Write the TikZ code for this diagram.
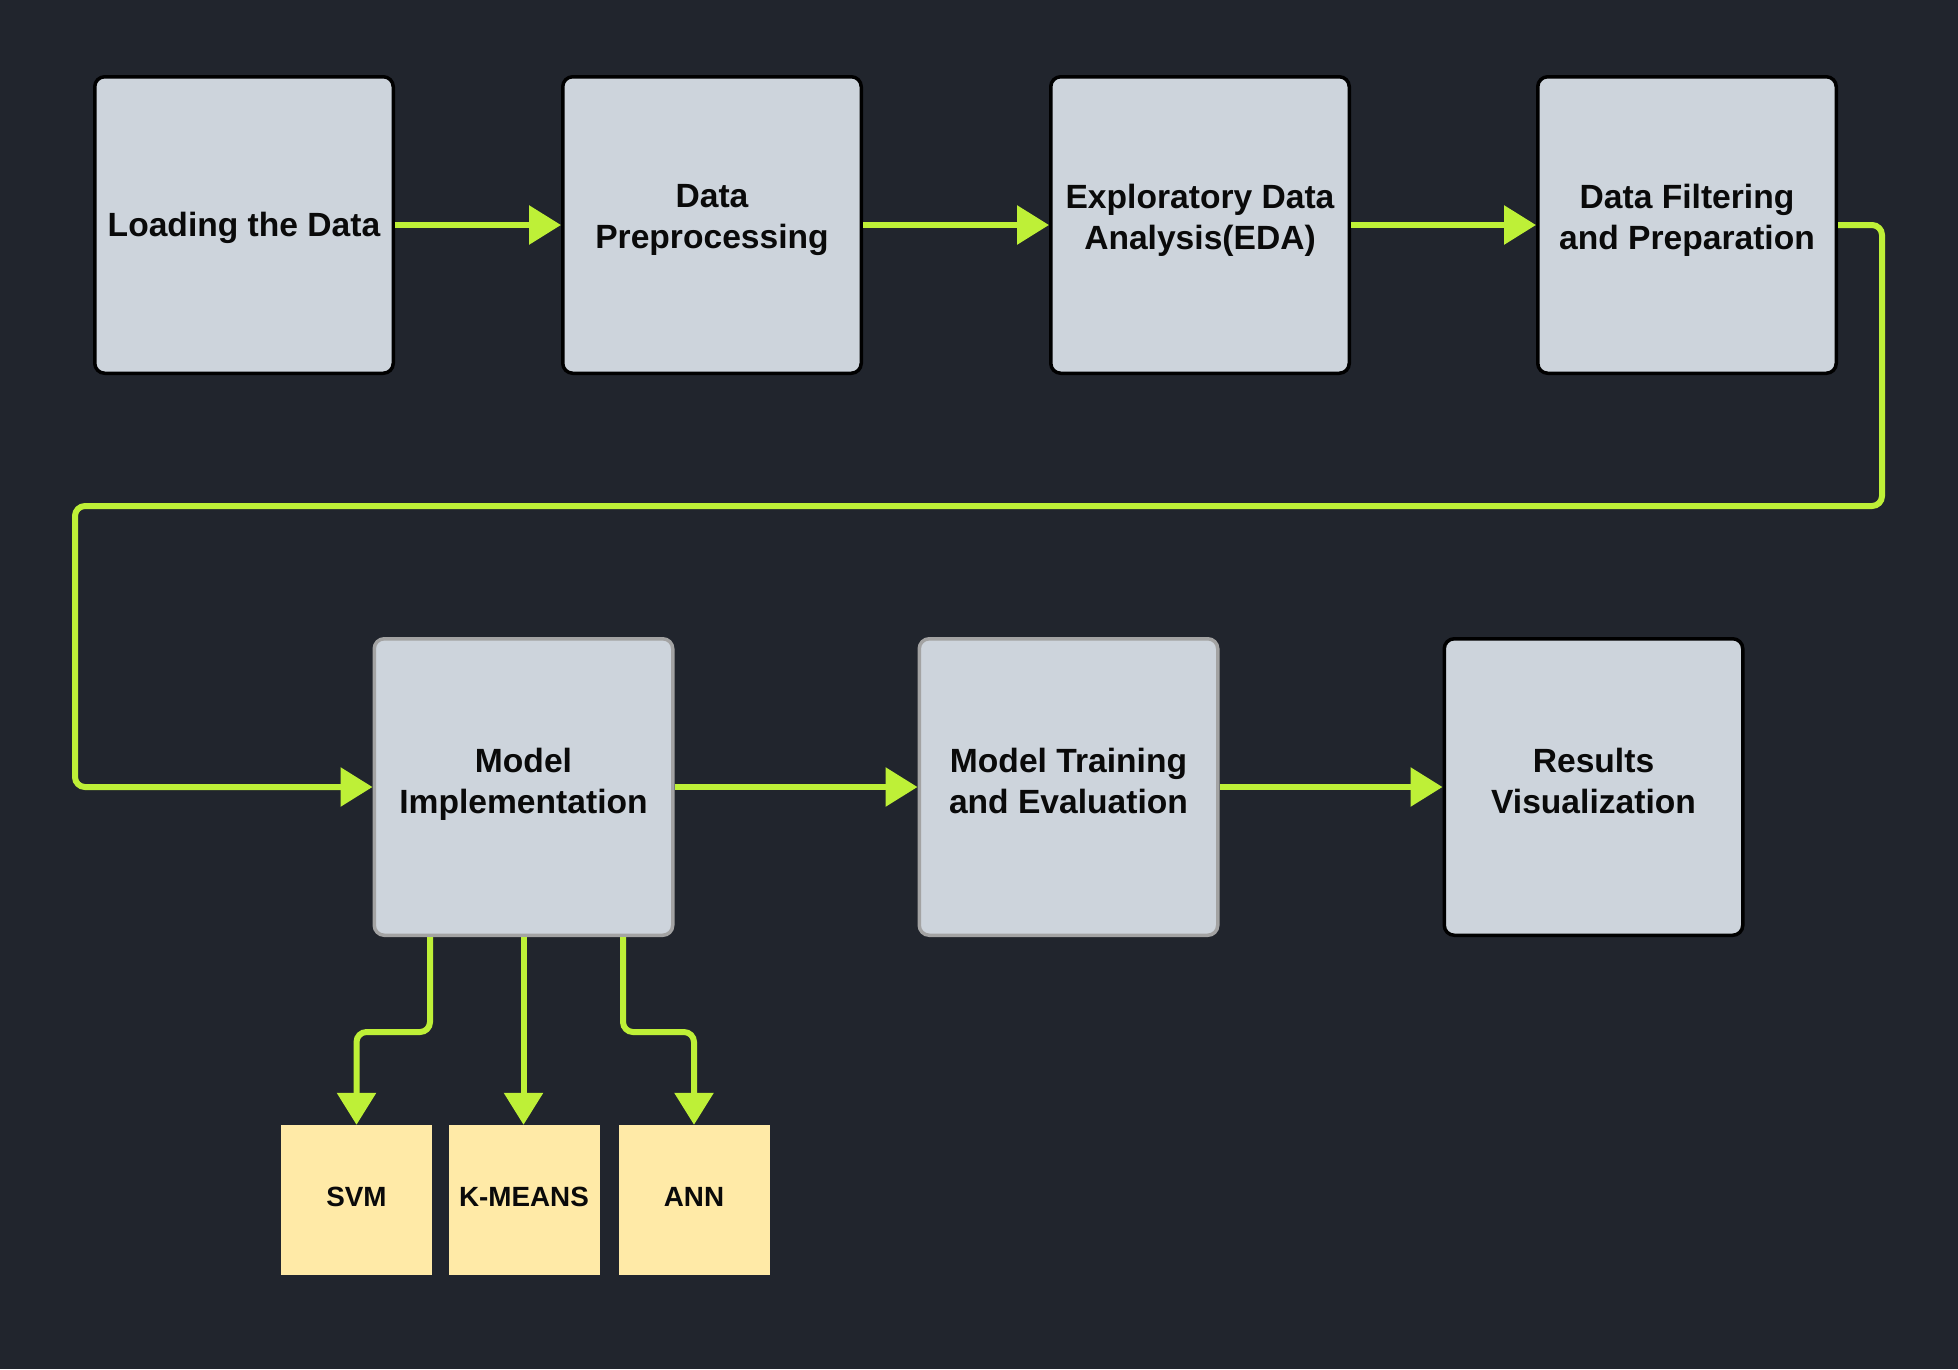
\documentclass[tikz,border=0pt]{standalone}
\usepackage{fontspec}
\setmainfont{Liberation Sans}
\usetikzlibrary{arrows.meta}
\definecolor{bgc}{RGB}{33,37,45}
\definecolor{boxfill}{RGB}{205,212,220}
\definecolor{limeline}{RGB}{190,240,55}
\definecolor{sticky}{RGB}{255,234,167}
\definecolor{edgegray}{RGB}{163,163,163}
\definecolor{ink}{RGB}{10,10,10}
\begin{document}
\begin{tikzpicture}[x=1pt,y=-1pt,
  stepbox/.style={rectangle, rounded corners=10pt, fill=boxfill, draw=black, line width=3.5pt, minimum width=298.5pt, minimum height=296.5pt, inner sep=0pt},
  graybox/.style={stepbox, draw=edgegray},
  algbox/.style={rectangle, fill=sticky, minimum width=151pt, minimum height=150pt, inner sep=0pt, font=\fontsize{27.8}{32}\selectfont\bfseries, text=ink, text height=19.5pt, text depth=7pt},
  lbl/.style={font=\fontsize{33.6}{40.8}\selectfont\bfseries, align=center, inner sep=0pt, anchor=north, text=ink},
  conn/.style={draw=limeline, line width=6pt, -{Triangle[length=32pt,width=38pt]}},
  bendconn/.style={conn, rounded corners=10pt}
]
\fill[bgc] (0,0) rectangle (1958,1369);
\useasboundingbox (0,0) rectangle (1958,1369);

\node[stepbox] (b1) at (244,225) {};
\node[stepbox] (b2) at (712,225) {};
\node[stepbox] (b3) at (1200,225) {};
\node[stepbox] (b4) at (1687,225) {};
\node[graybox] (b5) at (523.5,787) {};
\node[graybox] (b6) at (1068.5,787) {};
\node[stepbox] (b7) at (1593.5,787) {};

\node[algbox] (svm) at (356.5,1200) {SVM};
\node[algbox] (km) at (524,1200) {K-MEANS};
\node[algbox] (ann) at (694,1200) {ANN};

\node[lbl] (t1) at ([yshift=13.2pt]b1.center) {Loading the Data};
\node[lbl] (t2) at ([yshift=41pt]b2.center) {Data\\Preprocessing};
\node[lbl] (t3) at ([yshift=41pt]b3.center) {Exploratory Data\\Analysis(EDA)};
\node[lbl] (t4) at ([yshift=41pt]b4.center) {Data Filtering\\and Preparation};
\node[lbl] (t5) at ([yshift=39pt]b5.center) {Model\\Implementation};
\node[lbl] (t6) at ([yshift=39pt]b6.center) {Model Training\\and Evaluation};
\node[lbl] (t7) at ([yshift=39pt]b7.center) {Results\\Visualization};

\draw[conn] (b1) -- (b2);
\draw[conn] (b2) -- (b3);
\draw[conn] (b3) -- (b4);
\draw[conn] (b5) -- (b6);
\draw[conn] (b6) -- (b7);

\coordinate (w1) at (1882,506);
\coordinate (w2) at (75,506);
\draw[bendconn] (b4.east) -| (w1) -- (w2) |- (b5.west);

\draw[bendconn] ([xshift=-93.5pt]b5.south) -- ++(0,95) -| (svm.north);
\draw[conn] (b5.south) -- (b5.south |- km.north);
\draw[bendconn] ([xshift=99.5pt]b5.south) -- ++(0,95) -| (ann.north);
\end{tikzpicture}
\end{document}
